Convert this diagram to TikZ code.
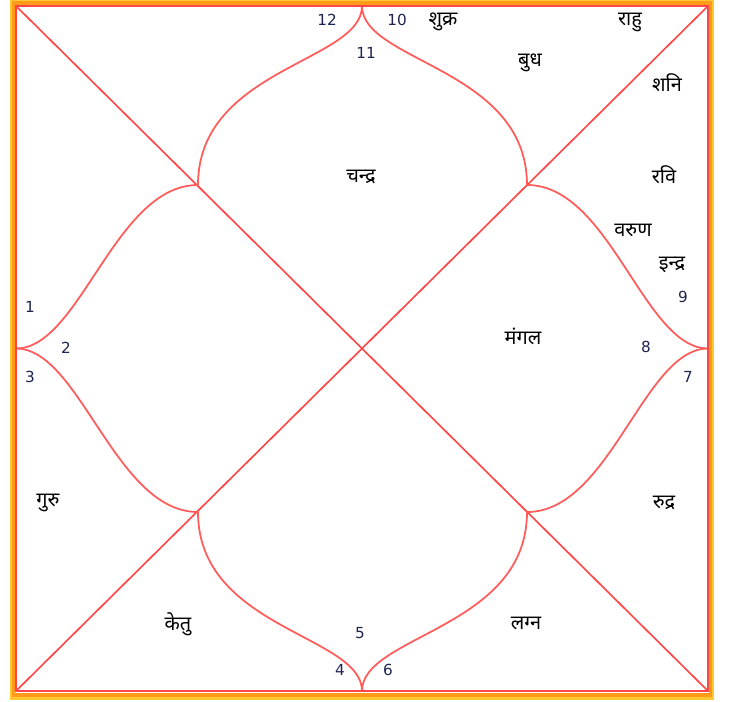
\documentclass[tikz,border=0pt]{standalone}
\usepackage{fontspec}
\setmainfont{DejaVu Sans}
\newfontfamily\deva[Script=Devanagari]{Noto Sans}
\definecolor{chartred}{HTML}{FF4545}
\definecolor{curvered}{HTML}{FF5C5C}
\definecolor{borderorange}{HTML}{FF9A1A}
\definecolor{borderyellow}{HTML}{FFC830}
\definecolor{numblue}{HTML}{1E2450}
\begin{document}
\begin{tikzpicture}[
        x=0.3mm, y=-0.3mm,
        num/.style={font=\fontsize{13}{15}\selectfont, text=numblue, inner sep=0pt},
        graha/.style={font=\deva\fontsize{17}{19}\selectfont, inner sep=0pt},
        ogee/.style={draw=curvered, line width=1.5pt},
        diag/.style={draw=chartred, line width=1.4pt}
    ]
        \useasboundingbox[fill=white] (0,0) rectangle (730,701);

        \coordinate (tl) at (16,6);
        \coordinate (tr) at (708,6);
        \coordinate (bl) at (16,691);
        \coordinate (br) at (708,691);
        \coordinate (c) at (362,348.5);
        \coordinate (t) at (362,6);
        \coordinate (b) at (362,691);
        \coordinate (l) at (16,348.5);
        \coordinate (r) at (708,348.5);
        \coordinate (ptl) at (198,185);
        \coordinate (ptr) at (527,185);
        \coordinate (pbl) at (198,512);
        \coordinate (pbr) at (527,512);

        \draw[diag] (tl) -- (br);
        \draw[diag] (tr) -- (bl);

        \draw[ogee] (t) .. controls (362,62) and (198,68) .. (ptl);
        \draw[ogee] (t) .. controls (362,62) and (527,68) .. (ptr);
        \draw[ogee] (b) .. controls (362,635) and (198,629) .. (pbl);
        \draw[ogee] (b) .. controls (362,635) and (527,629) .. (pbr);
        \draw[ogee] (l) .. controls (80,348.5) and (115,185) .. (ptl);
        \draw[ogee] (l) .. controls (80,348.5) and (115,512) .. (pbl);
        \draw[ogee] (r) .. controls (644,348.5) and (610,185) .. (ptr);
        \draw[ogee] (r) .. controls (644,348.5) and (610,512) .. (pbr);

        \draw[borderyellow, line width=2pt] (11.5,0.5) rectangle (712.5,698.5);
        \draw[borderorange, line width=2.6pt] (13.5,3) rectangle (710.5,695);
        \draw[chartred, line width=2pt] (tl) rectangle (br);

        \node[num] (h12) at (327,20) {12};
        \node[num] (h10) at (397,20) {10};
        \node[num] (h11) at (366,53) {11};
        \node[num] (h1) at (30,307) {1};
        \node[num] (h2) at (66,348) {2};
        \node[num] (h3) at (30,377) {3};
        \node[num] (h4) at (340,670) {4};
        \node[num] (h5) at (360,633) {5};
        \node[num] (h6) at (388,670) {6};
        \node[num] (h7) at (688,377) {7};
        \node[num] (h8) at (646,347) {8};
        \node[num] (h9) at (683,297) {9};

        \node[graha] (shukra) at (443,22) {शुक्र};
        \node[graha] (rahu) at (630,22) {राहु};
        \node[graha] (budh) at (530,63) {बुध};
        \node[graha] (shani) at (667,83) {शनि};
        \node[graha] (chandra) at (361,177) {चन्द्र};
        \node[graha] (ravi) at (664,175) {रवि};
        \node[graha] (varun) at (633,230) {वरुण};
        \node[graha] (indra) at (672,265) {इन्द्र};
        \node[graha] (mangal) at (523,336) {मंगल};
        \node[graha] (guru) at (48,503) {गुरु};
        \node[graha] (rudra) at (664,503) {रुद्र};
        \node[graha] (ketu) at (178,624) {केतु};
        \node[graha] (lagna) at (526,623) {लग्न};
    \end{tikzpicture}
\end{document}
